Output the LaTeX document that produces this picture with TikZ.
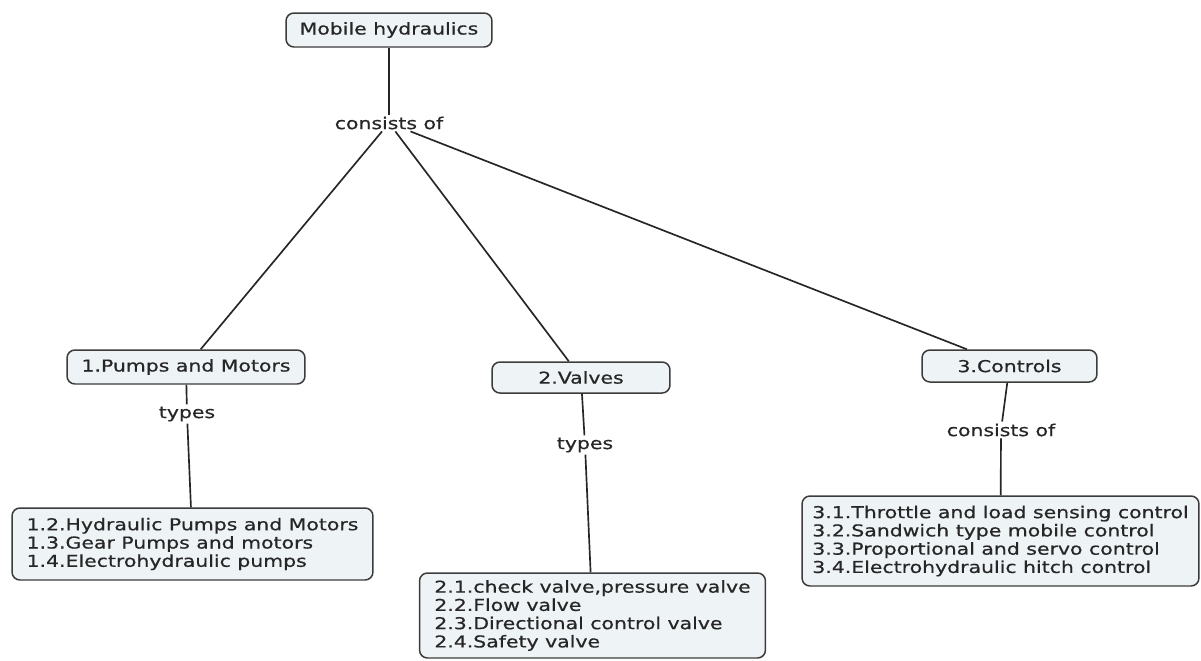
\documentclass[tikz,border=0pt]{standalone}
\usepackage{fontspec}
\setmainfont{DejaVu Sans}[FakeStretch=1.25, FakeBold=0.6]
\definecolor{boxfill}{HTML}{EEF3F6}
\definecolor{boxline}{HTML}{3C3C3C}
\definecolor{ink}{HTML}{262626}

\begin{document}
\begin{tikzpicture}[x=0.02cm, y=-0.02cm,
  concept/.style={draw=boxline, fill=boxfill, rounded corners=4.5pt, line width=0.85pt,
                  text=ink, font=\fontsize{9.3}{10.4}\selectfont, inner sep=0pt},
  listbox/.style={concept, align=left},
  link/.style   ={text=ink, font=\fontsize{9.3}{10.4}\selectfont, inner sep=1pt},
  conn/.style   ={draw=ink, line width=0.95pt}]

  \useasboundingbox (0,0) rectangle (1201,660);

  % root
  \node[concept, minimum width=4.12cm, minimum height=0.68cm] (root) at (389,30) {Mobile hydraulics};
  \node[link] (has) at (389,123) {consists of};

  % the three groups
  \node[concept, minimum width=4.76cm, minimum height=0.68cm] (pumps)    at (186,367)   {1.Pumps and Motors};
  \node[concept, minimum width=3.56cm, minimum height=0.62cm] (valves)   at (581,377.5) {2.Valves};
  \node[concept, minimum width=3.50cm, minimum height=0.64cm] (controls) at (1009.5,366) {3.Controls};

  % link labels under the groups
  \node[link] (ptypes) at (187,414)  {types};
  \node[link] (vtypes) at (585,445)  {types};
  \node[link] (chas)   at (1001,430) {consists of};

  % lists
  \node[listbox, minimum width=7.22cm, minimum height=1.44cm] (plist) at (192.5,544) {%
    1.2.Hydraulic Pumps and Motors\\
    1.3.Gear Pumps and motors\\
    1.4.Electrohydraulic pumps};
  \node[listbox, minimum width=6.92cm, minimum height=1.70cm] (vlist) at (592.5,615.5) {%
    2.1.check valve,pressure valve\\
    2.2.Flow valve\\
    2.3.Directional control valve\\
    2.4.Safety valve};
  \node[listbox, minimum width=7.94cm, minimum height=1.80cm] (clist) at (1000.5,541) {%
    3.1.Throttle and load sensing control\\
    3.2.Sandwich type mobile control\\
    3.3.Proportional and servo control\\
    3.4.Electrohydraulic hitch control};

  % connectors
  \draw[conn] (root) -- (has);
  \foreach \g in {pumps,valves,controls}
    \draw[conn] (has) -- (\g);
  \draw[conn] (pumps) -- (ptypes) -- (plist);
  \draw[conn] (valves) -- (vtypes) -- (vlist);
  \draw[conn] (controls) -- (chas) -- (clist);
\end{tikzpicture}
\end{document}
